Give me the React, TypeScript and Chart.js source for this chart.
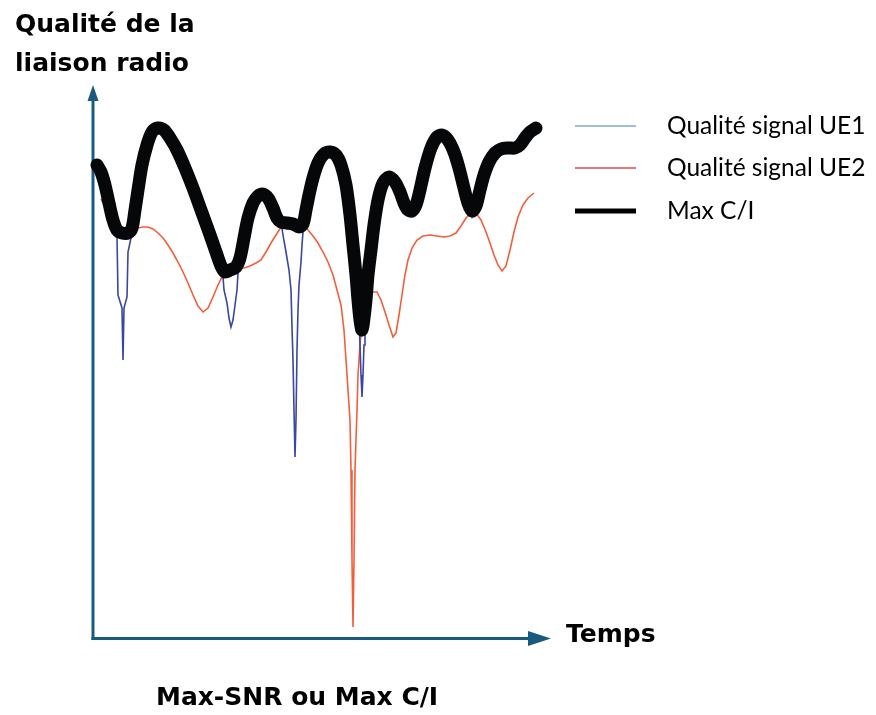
import React, { useEffect, useRef } from "react";
import { Chart, registerables } from "chart.js";

Chart.register(...registerables);

// Text content
const seriesLabels = ["Qualité signal UE1", "Qualité signal UE2", "Max C/I"];
const yAxisTitle = ["Qualité de la", "liaison radio"];
const xAxisTitle = "Temps";
const caption = "Max-SNR ou Max C/I";

// Axis ranges (time, link quality) – arbitrary units
const timeRange: [number, number] = [0, 45.7];
const qualityRange: [number, number] = [0, 55];

// Qualité signal UE1 [time, quality]
const ue1: [number, number][] = [
  [0.4, 47.3], [0.8, 46.6], [1.2, 45.3], [1.6, 43.5], [2.0, 41.8], [2.3, 40.6], [2.4, 40.1],
  [2.5, 34.3], [2.9, 33.0], [3.0, 27.8], [3.1, 33.0], [3.4, 34.1], [3.5, 38.6], [3.8, 40.0],
  [4.0, 41.2], [4.2, 42.8], [4.5, 44.8], [4.9, 47.3], [5.4, 49.3], [5.9, 50.6], [6.5, 51.0],
  [7.1, 50.8], [7.7, 50.0], [8.4, 48.8], [9.2, 47.0], [10.0, 45.0], [10.8, 42.8], [11.6, 40.6],
  [12.3, 38.6], [12.8, 37.2], [13.0, 36.1], [13.1, 34.8], [13.4, 33.5], [13.6, 32.0], [13.8, 31.1],
  [14.0, 31.8], [14.2, 33.3], [14.4, 34.8], [14.5, 36.5], [14.7, 38.0], [15.1, 40.0], [15.5, 42.0],
  [16.0, 43.5], [16.5, 44.2], [17.0, 44.4], [17.5, 44.0], [18.0, 43.0], [18.4, 42.0], [18.8, 41.6],
  [19.0, 40.3], [19.3, 38.6], [19.6, 36.8], [19.8, 34.8], [19.9, 31.1], [20.0, 27.8], [20.1, 22.8],
  [20.2, 18.1], [20.3, 21.8], [20.4, 28.8], [20.5, 32.8], [20.6, 35.3], [20.8, 37.6], [20.9, 39.3],
  [21.0, 40.6], [21.1, 41.4], [21.3, 42.8], [21.6, 44.3], [22.0, 46.0], [22.5, 47.5], [23.1, 48.4],
  [23.7, 48.6], [24.3, 48.3], [24.8, 47.3], [25.3, 45.3], [25.7, 42.3], [26.0, 39.3], [26.3, 36.3],
  [26.5, 33.8], [26.6, 31.8], [26.7, 29.3], [26.8, 26.3], [26.9, 24.1], [27.0, 26.3], [27.1, 29.3],
  [27.2, 31.3], [27.3, 33.8], [27.5, 36.3], [27.8, 38.8], [28.1, 41.3], [28.5, 43.8], [29.0, 45.5],
  [29.6, 46.1], [30.2, 45.6], [30.7, 44.6], [31.1, 43.5], [31.5, 42.8], [31.9, 42.7], [32.3, 43.3],
  [32.7, 44.8], [33.2, 47.0], [33.8, 49.0], [34.4, 50.1], [34.9, 50.3], [35.5, 49.8], [36.1, 48.6],
  [36.6, 47.0], [37.1, 45.0], [37.5, 43.5], [37.9, 42.1], [38.3, 43.2], [38.7, 44.8], [39.1, 46.3],
  [39.6, 47.6], [40.2, 48.5], [40.8, 48.9], [41.5, 49.0], [42.2, 49.0], [42.7, 49.3], [43.2, 50.0],
  [43.7, 50.6], [44.3, 51.0],
];

// Qualité signal UE2 [time, quality]
const ue2: [number, number][] = [
  [0.8, 43.9], [1.1, 43.3], [1.5, 42.6], [1.9, 41.8], [2.4, 41.0], [3.0, 40.5], [3.5, 40.4],
  [4.0, 40.7], [4.5, 41.0], [5.0, 41.1], [5.5, 41.1], [6.0, 40.9], [6.5, 40.5], [7.0, 40.0],
  [7.5, 39.3], [8.0, 38.5], [8.5, 37.6], [9.0, 36.6], [9.5, 35.5], [10.0, 34.3], [10.5, 33.2],
  [11.0, 32.6], [11.5, 33.0], [12.0, 34.1], [12.5, 35.3], [12.9, 36.1], [13.3, 36.6], [13.9, 36.8],
  [14.5, 37.0], [15.1, 37.0], [15.7, 37.2], [16.3, 37.5], [16.8, 37.8], [17.3, 38.6], [17.8, 39.5],
  [18.3, 40.3], [18.8, 41.1], [19.3, 41.5], [19.9, 41.6], [20.5, 41.5], [21.0, 41.2], [21.5, 40.8],
  [22.0, 40.2], [22.5, 39.5], [23.0, 38.6], [23.5, 37.6], [24.0, 36.3], [24.4, 34.8], [24.8, 33.3],
  [25.1, 30.8], [25.3, 27.8], [25.5, 24.8], [25.7, 21.8], [25.8, 16.8], [25.9, 7.8], [26.0, 1.1],
  [26.1, 7.8], [26.2, 16.8], [26.4, 22.8], [26.5, 26.3], [26.7, 29.3], [26.9, 31.8], [27.2, 33.3],
  [27.5, 34.2], [27.9, 34.6], [28.4, 34.6], [28.8, 33.8], [29.2, 32.6], [29.6, 31.3], [30.0, 30.1],
  [30.3, 30.5], [30.6, 32.3], [30.9, 34.3], [31.2, 36.3], [31.5, 37.8], [31.9, 39.0], [32.4, 39.8],
  [33.0, 40.2], [33.7, 40.3], [34.4, 40.2], [35.1, 40.1], [35.7, 40.2], [36.3, 40.5], [36.8, 41.2],
  [37.3, 42.0], [37.8, 42.5], [38.3, 42.5], [38.8, 41.8], [39.3, 40.6], [39.7, 39.5], [40.1, 38.3],
  [40.5, 37.3], [40.9, 36.7], [41.3, 37.2], [41.7, 38.8], [42.1, 40.6], [42.5, 42.1], [43.0, 43.3],
  [43.5, 44.0], [44.1, 44.5],
];

// Max C/I [time, quality]
const maxCI: [number, number][] = [
  [0.4, 47.3], [0.8, 46.6], [1.2, 45.3], [1.6, 43.5], [2.0, 41.8], [2.4, 40.8], [2.9, 40.5],
  [3.5, 40.5], [3.9, 41.0], [4.2, 42.8], [4.5, 44.8], [4.9, 47.3], [5.4, 49.3], [5.9, 50.6],
  [6.5, 51.0], [7.1, 50.8], [7.7, 50.0], [8.4, 48.8], [9.2, 47.0], [10.0, 45.0], [10.8, 42.8],
  [11.6, 40.6], [12.3, 38.6], [12.8, 37.2], [13.2, 36.6], [13.7, 36.8], [14.3, 37.1], [14.7, 38.0],
  [15.1, 40.0], [15.5, 42.0], [16.0, 43.5], [16.5, 44.2], [17.0, 44.4], [17.5, 44.0], [18.0, 43.0],
  [18.4, 42.0], [18.8, 41.6], [19.4, 41.5], [20.0, 41.4], [20.6, 41.1], [21.0, 41.4], [21.3, 42.8],
  [21.6, 44.3], [22.0, 46.0], [22.5, 47.5], [23.1, 48.4], [23.7, 48.6], [24.3, 48.3], [24.8, 47.3],
  [25.3, 45.3], [25.7, 42.3], [26.0, 39.3], [26.3, 36.3], [26.5, 33.8], [26.7, 31.8], [26.9, 30.8],
  [27.1, 32.0], [27.3, 33.8], [27.5, 36.3], [27.8, 38.8], [28.1, 41.3], [28.5, 43.8], [29.0, 45.5],
  [29.6, 46.1], [30.2, 45.6], [30.7, 44.6], [31.1, 43.5], [31.5, 42.8], [31.9, 42.7], [32.3, 43.3],
  [32.7, 44.8], [33.2, 47.0], [33.8, 49.0], [34.4, 50.1], [34.9, 50.3], [35.5, 49.8], [36.1, 48.6],
  [36.6, 47.0], [37.1, 45.0], [37.5, 43.5], [37.9, 42.7], [38.3, 43.2], [38.7, 44.8], [39.1, 46.3],
  [39.6, 47.6], [40.2, 48.5], [40.8, 48.9], [41.5, 49.0], [42.2, 49.0], [42.7, 49.3], [43.2, 50.0],
  [43.7, 50.6], [44.3, 51.0],
];

const toXY = (pts: [number, number][]) => pts.map(([x, y]) => ({ x, y }));

const AXIS_COLOR = "#1b5a80";
const LEGEND_COLORS = ["#7fa8da", "#e5494b", "#000000"];
const LEGEND_WIDTHS = [1.5, 1.5, 5];

export default function App() {
  const ref = useRef<HTMLCanvasElement>(null);

  useEffect(() => {
    const canvas = ref.current;
    if (!canvas) return;

    const overlay = {
      id: "overlay",
      beforeDatasetsDraw(chart: any) {
        const { ctx, chartArea } = chart;
        const left = chartArea.left;
        const bottom = chartArea.bottom + 0.5;
        ctx.save();
        ctx.strokeStyle = AXIS_COLOR;
        ctx.fillStyle = AXIS_COLOR;
        ctx.lineWidth = 3;
        // y axis
        ctx.beginPath();
        ctx.moveTo(left, bottom + 1.5);
        ctx.lineTo(left, 98);
        ctx.stroke();
        ctx.beginPath();
        ctx.moveTo(left, 85);
        ctx.lineTo(left - 5.5, 101);
        ctx.lineTo(left + 5.5, 101);
        ctx.closePath();
        ctx.fill();
        // x axis
        ctx.beginPath();
        ctx.moveTo(left - 1.5, bottom);
        ctx.lineTo(532, bottom);
        ctx.stroke();
        ctx.beginPath();
        ctx.moveTo(551, bottom);
        ctx.lineTo(528, bottom - 7.5);
        ctx.lineTo(528, bottom + 7.5);
        ctx.closePath();
        ctx.fill();
        ctx.restore();
      },
      afterDraw(chart: any) {
        const { ctx } = chart;
        ctx.save();
        ctx.fillStyle = "#000";
        ctx.textBaseline = "alphabetic";
        ctx.textAlign = "left";
        ctx.font = "bold 25px 'DejaVu Sans'";
        ctx.fillText(yAxisTitle[0], 15, 32);
        ctx.fillText(yAxisTitle[1], 15, 71);
        ctx.fillText(xAxisTitle, 566, 642);
        ctx.fillText(caption, 156, 705);
        // legend
        ctx.font = "24.5px Lato";
        const rows = [126, 168, 211];
        seriesLabels.forEach((label, i) => {
          ctx.strokeStyle = LEGEND_COLORS[i];
          ctx.lineWidth = LEGEND_WIDTHS[i];
          ctx.beginPath();
          ctx.moveTo(575, rows[i]);
          ctx.lineTo(636, rows[i]);
          ctx.stroke();
          ctx.textBaseline = "middle";
          ctx.fillText(label, 667, rows[i]);
        });
        ctx.restore();
      },
    };

    const chart = new Chart(canvas, {
      type: "line",
      data: {
        datasets: [
          {
            label: seriesLabels[2],
            data: toXY(maxCI),
            borderColor: "#060709",
            borderWidth: 13,
            borderJoinStyle: "round",
            borderCapStyle: "round",
            pointRadius: 0,
            tension: 0.3,
            order: 0,
            clip: false,
          },
          {
            label: seriesLabels[0],
            data: toXY(ue1),
            borderColor: "#3a46a4",
            borderWidth: 1.6,
            pointRadius: 0,
            tension: 0,
            order: 1,
            clip: false,
          },
          {
            label: seriesLabels[1],
            data: toXY(ue2),
            borderColor: "#f45e3c",
            borderWidth: 1.6,
            pointRadius: 0,
            tension: 0,
            order: 2,
            clip: false,
          },
        ],
      },
      options: {
        responsive: false,
        animation: false,
        devicePixelRatio: 1,
        events: [],
        layout: { padding: { left: 93, top: 88, right: 326, bottom: 77 } },
        scales: {
          x: { type: "linear", min: timeRange[0], max: timeRange[1], display: false },
          y: { type: "linear", min: qualityRange[0], max: qualityRange[1], display: false },
        },
        plugins: { legend: { display: false }, tooltip: { enabled: false } },
      },
      plugins: [overlay],
    } as any);

    return () => chart.destroy();
  }, []);

  return (
    <div style={{ position: "fixed", left: 0, top: 0, width: 876, height: 715, background: "#fff" }}>
      <canvas ref={ref} width={876} height={715} style={{ display: "block" }} />
    </div>
  );
}
